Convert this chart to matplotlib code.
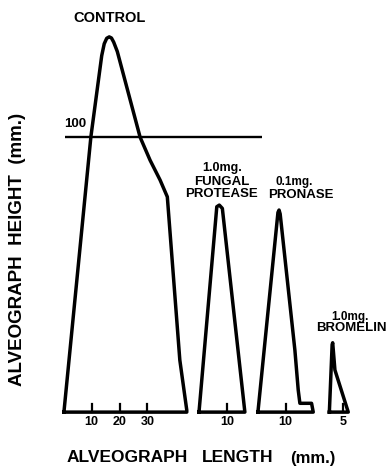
import matplotlib.pyplot as plt

plt.rcParams["font.family"] = ["Liberation Sans", "DejaVu Sans"]
plt.rcParams["font.weight"] = "bold"

# alveograph traces (length mm, height mm), measured from each curve's start
control_x = [0, 9.7, 13.6, 14.5, 15.4, 16.3, 17.1, 17.9, 19.2, 27.4, 31.0,
             34.6, 37.2, 41.7, 44.2, 44.2, 0]
control_y = [0, 100, 129.5, 133.8, 135.8, 136.3, 135.9, 134.4, 131.0, 99.9,
             91.5, 84.3, 78.2, 18.9, 0.7, 0, 0]

fungal_x = [0, 6.4, 7.3, 8.4, 16.5, 0]
fungal_y = [0, 74.6, 75.2, 74.0, 0, 0]

pronase_x = [0, 7.2, 7.6, 8.0, 13.3, 14.5, 15.1, 19.3, 19.9, 0]
pronase_y = [0, 72.5, 73.4, 72.0, 22.5, 8.0, 3.2, 3.2, 0, 0]

bromelin_x = [0, 1.0, 1.2, 2.0, 6.8, 0]
bromelin_y = [0, 24.5, 25.2, 15.3, 0, 0]

# where each trace starts on the shared length axis
offsets = [0, 48.6, 69.8, 95.5]
ticks = [[10, 20, 30], [10], [10], [5]]
ref_height = 100

labels = ["CONTROL", "1.0mg.\nFUNGAL\nPROTEASE", "0.1mg.\nPRONASE", "1.0mg.\nBROMELIN"]


def px(x, y):
    return x / 388, 1 - y / 468


def main():
    fig = plt.figure(figsize=(3.88, 4.68), dpi=100)
    ax = fig.add_axes([0, 0, 1, 1])
    ax.set_xlim(-23.0, 116.6)
    ax.set_ylim(-20.3, 149.7)
    ax.axis("off")

    curves = [(control_x, control_y), (fungal_x, fungal_y),
              (pronase_x, pronase_y), (bromelin_x, bromelin_y)]
    for (xs, ys), off, tk in zip(curves, offsets, ticks):
        ax.plot([x + off for x in xs], ys, "k-", lw=2.5,
                solid_joinstyle="round")
        for t in tk:
            ax.plot([t + off, t + off], [0, 2.8], "k-", lw=1.6)
            ax.text(t + off, -3.5, str(t), ha="center", va="center",
                    fontsize=9, fontweight="bold")

    # 100 mm reference line
    ax.hlines(ref_height, 0.4, 71.3, colors="k", lw=1.7)
    ax.text(0.0, ref_height + 2.3, "100", ha="left", va="bottom",
            fontsize=9.5, fontweight="bold")

    # curve labels
    fig.text(*px(110, 18), labels[0], ha="center", va="center",
             fontsize=10.5, fontweight="bold")
    fig.text(*px(222, 168), "1.0mg.", ha="center", va="center", fontsize=9)
    fig.text(*px(222, 188), "FUNGAL\nPROTEASE", ha="center", va="center",
             fontsize=9.5, linespacing=0.95)
    fig.text(*px(294, 182), "0.1mg.", ha="center", va="center", fontsize=8.5)
    fig.text(*px(301, 195), "PRONASE", ha="center", va="center", fontsize=9.5)
    fig.text(*px(350, 317), "1.0mg.", ha="center", va="center", fontsize=8.5)
    fig.text(*px(316, 328), "BROMELIN", ha="left", va="center", fontsize=9.5)

    # axis titles
    fig.text(*px(67, 458), "ALVEOGRAPH", ha="left", va="center", fontsize=12.5)
    fig.text(*px(202, 458), "LENGTH", ha="left", va="center", fontsize=12.5)
    fig.text(*px(290, 458), "(mm.)", ha="left", va="center", fontsize=12)
    fig.text(*px(18, 249), "ALVEOGRAPH  HEIGHT  (mm.)", ha="center",
             va="center", rotation=90, fontsize=13.5)

    fig.savefig("out.png", dpi=100)


if __name__ == "__main__":
    main()
